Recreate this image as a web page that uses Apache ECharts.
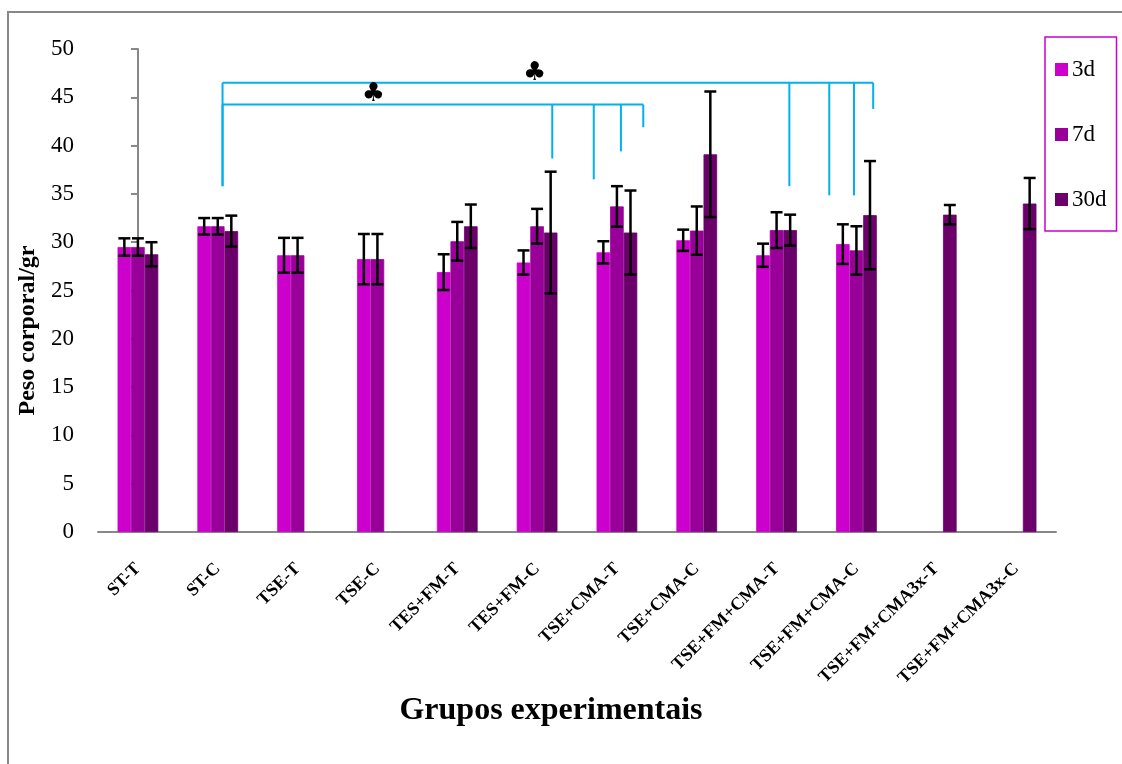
<!DOCTYPE html>
<html>
<head>
<meta charset="utf-8">
<title>Peso corporal por grupo experimental</title>
<script src="https://cdn.jsdelivr.net/npm/echarts@6/dist/echarts.min.js"></script>
<style>
  html, body { margin: 0; padding: 0; background: #ffffff; }
  #chart { width: 1122px; height: 764px; }
</style>
</head>
<body>
<div id="chart"></div>
<script>
// Experimental groups (x axis)
const groups = ['ST-T', 'ST-C', 'TSE-T', 'TSE-C', 'TES+FM-T', 'TES+FM-C',
  'TSE+CMA-T', 'TSE+CMA-C', 'TSE+FM+CMA-T', 'TSE+FM+CMA-C',
  'TSE+FM+CMA3x-T', 'TSE+FM+CMA3x-C'];

// Body weight means (g) per time point
const mean3d  = [29.5, 31.65, 28.65, 28.25, 26.9, 27.9, 28.95, 30.2, 28.65, 29.8, null, null];
const mean7d  = [29.5, 31.65, 28.65, 28.25, 30.1, 31.65, 33.7, 31.2, 31.25, 29.15, null, null];
const mean30d = [28.75, 31.15, null, null, 31.65, 31.0, 31.0, 39.1, 31.25, 32.8, 32.85, 34.0];

// Standard deviations (error bars)
const sd3d  = [0.9, 0.85, 1.8, 2.6, 1.85, 1.25, 1.15, 1.1, 1.2, 2.05, null, null];
const sd7d  = [0.9, 0.85, 1.8, 2.6, 2.0, 1.8, 2.1, 2.5, 1.85, 2.5, null, null];
const sd30d = [1.25, 1.6, null, null, 2.25, 6.3, 4.35, 6.5, 1.6, 5.6, 1.0, 2.65];

const seriesNames = ['3d', '7d', '30d'];
const seriesColors = ['#CC00CC', '#990099', '#6B006B'];

// Y axis ticks
const yMin = 0, yMax = 50, yStep = 5;

// Significance brackets: level of the horizontal line, drops [position on group axis, lower end], mark position
const bracketLevels = [46.5, 44.25];
const bracketDrops = [
  [[1.06, 35.8], [8.16, 35.8], [8.66, 34.85], [8.97, 34.85], [9.21, 43.8]],
  [[1.06, 35.8], [5.19, 38.66], [5.71, 36.5], [6.05, 39.4], [6.33, 41.9]]
];
const bracketMarks = [4.97, 2.95];
const bracketSymbol = '\u2663';

const serif = "'Liberation Serif', 'Times New Roman', serif";
const means = [mean3d, mean7d, mean30d];
const sds = [sd3d, sd7d, sd30d];
const categoryGap = 0.49;

const chart = echarts.init(document.getElementById('chart'), null, { renderer: 'canvas' });

const barSeries = seriesNames.map((name, i) => ({
  name: name,
  type: 'bar',
  data: means[i],
  barGap: '0%',
  barCategoryGap: (categoryGap * 100) + '%',
  itemStyle: { color: seriesColors[i], borderColor: seriesColors[i], borderWidth: 0.8 },
  z: 2
}));

const errorSeries = seriesNames.map((name, i) => ({
  name: name + ' DP',
  type: 'custom',
  z: 5,
  silent: true,
  encode: { x: 0, y: [1, 2] },
  data: means[i].map((m, k) => (m == null ? [k, null, null] : [k, m - sds[i][k], m + sds[i][k]])),
  renderItem: function (params, api) {
    const lo = api.value(1), hi = api.value(2);
    if (lo == null || isNaN(lo)) return null;
    const band = api.size([1, 0])[0];
    const bw = band * (1 - categoryGap) / 3;
    const c = api.coord([api.value(0), lo]);
    const x = c[0] + (i - 1) * bw;
    const yLo = c[1];
    const yHi = api.coord([api.value(0), hi])[1];
    const half = bw * 0.44;
    const st = { stroke: '#000000', lineWidth: 2.5 };
    return {
      type: 'group',
      children: [
        { type: 'line', shape: { x1: x, y1: yLo, x2: x, y2: yHi }, style: st },
        { type: 'line', shape: { x1: x - half, y1: yHi, x2: x + half, y2: yHi }, style: st },
        { type: 'line', shape: { x1: x - half, y1: yLo, x2: x + half, y2: yLo }, style: st }
      ]
    };
  }
}));

const bracketSeries = {
  name: 'brackets',
  type: 'custom',
  xAxisIndex: 1,
  yAxisIndex: 0,
  z: 6,
  silent: true,
  data: bracketLevels.map((lvl, k) => [k, lvl]),
  renderItem: function (params, api) {
    const k = api.value(0);
    const level = api.value(1);
    const drops = bracketDrops[k];
    const xs = drops.map(d => d[0]);
    const yLine = api.coord([0, level])[1];
    const left = api.coord([Math.min.apply(null, xs), level])[0];
    const right = api.coord([Math.max.apply(null, xs), level])[0];
    const st = { stroke: '#00B0F0', lineWidth: 2 };
    const children = [
      { type: 'line', shape: { x1: left, y1: yLine, x2: right, y2: yLine }, style: st }
    ];
    drops.forEach(d => {
      const p = api.coord([d[0], d[1]]);
      children.push({ type: 'line', shape: { x1: p[0], y1: yLine, x2: p[0], y2: p[1] }, style: st });
    });
    const m = api.coord([bracketMarks[k], level]);
    children.push({
      type: 'text',
      x: m[0], y: yLine + 3,
      style: {
        text: bracketSymbol, fill: '#000000',
        font: "26px 'DejaVu Sans', sans-serif",
        align: 'center', verticalAlign: 'bottom'
      }
    });
    return { type: 'group', children: children };
  }
};

const option = {
  backgroundColor: '#ffffff',
  animation: false,
  graphic: [{
    type: 'rect',
    shape: { x: 8, y: 12, width: 1300, height: 900 },
    style: { fill: 'none', stroke: '#888888', lineWidth: 2 },
    silent: true, z: -10
  }],
  legend: {
    data: seriesNames,
    orient: 'vertical',
    left: 1045,
    top: 37,
    icon: 'rect',
    itemWidth: 11,
    itemHeight: 11,
    itemGap: 42,
    itemTextGap: 5,
    padding: [21, 10, 20, 10],
    borderColor: '#CC00CC',
    borderWidth: 1.5,
    textStyle: { fontFamily: serif, fontSize: 23, color: '#000000' }
  },
  grid: { left: 98, right: 66, top: 49, bottom: 232, containLabel: false },
  xAxis: [{
    type: 'category',
    data: groups,
    axisLine: { lineStyle: { color: '#888888', width: 2 } },
    axisTick: { show: false },
    axisLabel: {
      interval: 0, rotate: 45, margin: 34,
      fontFamily: serif, fontWeight: 'bold', fontSize: 18, color: '#000000'
    },
    name: 'Grupos experimentais',
    nameLocation: 'middle',
    nameGap: 163,
    nameTextStyle: {
      fontFamily: serif, fontWeight: 'bold', fontSize: 32, color: '#000000',
      padding: [0, 52, 0, 0]
    }
  }, {
    type: 'value',
    min: -0.5, max: 11.5,
    show: false
  }],
  yAxis: {
    type: 'value',
    min: yMin, max: yMax, interval: yStep,
    axisLine: { show: true, lineStyle: { color: '#888888', width: 2 } },
    axisTick: { show: true, inside: false, length: 7, lineStyle: { color: '#888888', width: 2 } },
    splitLine: { show: false },
    axisLabel: { margin: 24, fontFamily: serif, fontSize: 23, color: '#000000' },
    name: 'Peso corporal/gr',
    nameLocation: 'middle',
    nameGap: 58,
    nameTextStyle: {
      fontFamily: serif, fontWeight: 'bold', fontSize: 24, color: '#000000',
      padding: [0, 80, 0, 0]
    }
  },
  series: barSeries.concat(errorSeries, [bracketSeries])
};

chart.setOption(option);
</script>
</body>
</html>
